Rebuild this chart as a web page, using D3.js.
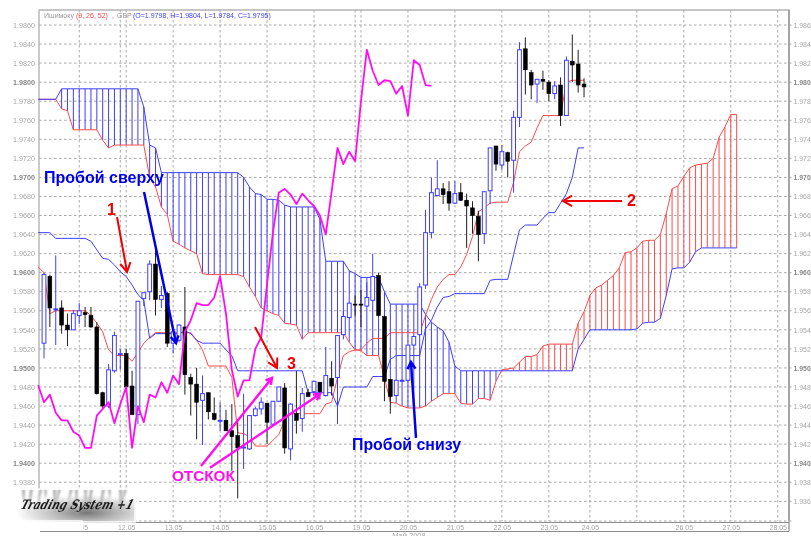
<!DOCTYPE html>
<html><head><meta charset="utf-8">
<script src="https://cdnjs.cloudflare.com/ajax/libs/d3/7.9.0/d3.min.js"></script>
<style>html,body{margin:0;padding:0;background:#fff;overflow:hidden}svg{display:block}text{font-family:"Liberation Sans",Arial,sans-serif}</style>
</head><body><svg id="c" width="811" height="536"></svg>
<script>
// all prices are in 1/10000 units (19860 = 1.9860)
const priceTicks=[19860,19840,19820,19800,19780,19760,19740,19720,19700,19680,19660,19640,19620,19600,19580,19560,19540,19520,19500,19480,19460,19440,19420,19400,19380,19360];
const dateTicks=[[6,"11.05"],[14,"12.05"],[22,"13.05"],[30,"14.05"],[38,"15.05"],[46,"16.05"],[54,"19.05"],[62,"20.05"],[70,"21.05"],[78,"22.05"],[86,"23.05"],[93,"24.05"],[109,"26.05"],[117,"27.05"],[125,"28.05"]];
const extraGrid=[13,53,101];
const opens=[19526,19596,19562,19563,19545,19540,19555,19558,19555,19543,19474,19460,19497,19514,19515,19481,19451,19573,19580,19609,19572,19578,19526,19529,19543,19490,19483,19466,19474,19452,19445,19445,19434,19429,19417,19415,19450,19457,19463,19441,19465,19479,19415,19452,19447,19474,19475,19485,19471,19489,19490,19535,19553,19567,19567,19565,19571,19597,19554,19488,19471,19487,19487,19524,19535,19587,19642,19681,19688,19685,19673,19684,19676,19668,19659,19641,19686,19733,19713,19726,19718,19763,19835,19810,19798,19803,19800,19788,19797,19765,19822,19819,19798];
const highs=[19600,19598,19618,19571,19557,19561,19568,19564,19564,19548,19475,19504,19538,19520,19520,19497,19570,19579,19613,19627,19586,19580,19538,19546,19585,19494,19500,19492,19474,19469,19464,19456,19462,19446,19473,19450,19459,19469,19463,19465,19480,19484,19463,19497,19479,19478,19486,19485,19522,19507,19534,19560,19568,19576,19582,19590,19620,19600,19555,19488,19487,19488,19524,19533,19589,19666,19700,19718,19694,19696,19696,19694,19683,19675,19665,19685,19731,19733,19734,19727,19770,19842,19847,19813,19803,19812,19802,19801,19805,19827,19850,19834,19804];
const lows=[19510,19543,19524,19536,19523,19540,19546,19543,19542,19472,19458,19458,19495,19498,19480,19451,19441,19565,19571,19555,19563,19522,19515,19527,19472,19450,19425,19419,19446,19445,19434,19434,19392,19363,19394,19414,19449,19451,19420,19440,19464,19410,19403,19431,19433,19470,19474,19467,19470,19471,19441,19530,19552,19555,19543,19564,19570,19554,19465,19452,19471,19486,19486,19523,19534,19583,19636,19680,19672,19665,19672,19675,19626,19641,19612,19630,19672,19707,19708,19700,19684,19753,19787,19782,19778,19792,19780,19782,19754,19765,19800,19789,19784];
const closes=[19598,19563,19562,19545,19540,19557,19560,19556,19543,19473,19460,19498,19534,19515,19480,19451,19570,19579,19609,19572,19576,19526,19538,19545,19493,19483,19464,19473,19454,19446,19445,19434,19428,19416,19417,19450,19457,19464,19443,19465,19480,19416,19462,19445,19473,19470,19486,19475,19492,19481,19534,19554,19568,19566,19566,19574,19596,19555,19486,19470,19487,19487,19524,19533,19585,19642,19684,19688,19682,19673,19683,19676,19670,19660,19640,19685,19731,19714,19727,19717,19763,19834,19813,19797,19803,19801,19788,19796,19765,19823,19818,19797,19795];
// line series start one bar before the first candle
const tenkan=[19606,19600,19557,19560,19560,19560,19560,19560,19560,19555,19547,19538,19519,19513,19513,19513,19507,19516,19526,19532,19537,19537,19537,19537,19537,19537,19537,19529,19519,19502,19502,19502,19502,19490,19432,19431,19428,19418,19418,19418,19424,19430,19445,19452,19452,19452,19452,19452,19452,19462,19464,19490,19513,19517,19519,19519,19526,19531,19531,19531,19537,19537,19537,19537,19537,19537,19555,19572,19585,19593,19598,19598,19606,19619,19638,19664,19668,19673,19674,19674,19674,19695,19727,19733,19737,19752,19765,19765,19765,19765,19800,19802,19802,19802];
const kijun=[19642,19642,19642,19636,19636,19636,19636,19636,19636,19633,19624,19615,19614,19608,19601,19596,19587,19577,19571,19531,19536,19536,19536,19536,19536,19539,19536,19529,19526,19526,19526,19526,19519,19513,19497,19497,19497,19497,19497,19497,19497,19497,19497,19497,19497,19497,19474,19474,19474,19474,19474,19460,19480,19480,19480,19480,19480,19491,19491,19491,19509,19513,19513,19513,19513,19513,19541,19550,19564,19574,19575,19578,19578,19578,19578,19578,19578,19592,19593,19593,19593,19619,19645,19650,19650,19650,19657,19663,19663,19673,19683,19700,19731,19731];
const chikou=[19482,19464,19472,19453,19445,19445,19433,19429,19416,19416,19450,19457,19464,19442,19462,19480,19416,19460,19443,19472,19469,19485,19474,19492,19483,19538,19550,19568,19566,19566,19574,19596,19557,19498,19470,19487,19487,19520,19532,19588,19642,19684,19688,19682,19672,19683,19676,19670,19660,19640,19685,19731,19714,19727,19717,19780,19834,19812,19797,19802,19801,19788,19796,19765,19823,19818,19797,19796];
const spanA=[19782,19782,19782,19782,19772,19770,19750,19750,19750,19750,19750,19739,19731,19734,19734,19734,19734,19734,19734,19700,19690,19669,19661,19633,19630,19626,19623,19620,19599,19598,19598,19598,19598,19598,19598,19596,19585,19575,19563,19560,19557,19555,19547,19546,19545,19530,19537,19537,19537,19537,19537,19537,19537,19527,19519,19518,19513,19513,19513,19490,19464,19463,19460,19458,19458,19458,19460,19465,19469,19473,19473,19473,19463,19462,19462,19468,19468,19466,19486,19498,19499,19500,19506,19512,19512,19514,19523,19525,19525,19525,19525,19525,19547,19559,19576,19584,19587,19592,19597,19605,19621,19622,19626,19633,19634,19634,19640,19662,19688,19691,19701,19710,19713,19714,19715,19720,19742,19753,19766,19766];
const spanB=[19782,19782,19782,19782,19793,19793,19793,19793,19793,19793,19793,19793,19793,19793,19793,19793,19793,19793,19774,19734,19731,19705,19705,19705,19705,19705,19705,19705,19705,19705,19705,19705,19705,19705,19705,19700,19690,19683,19682,19677,19677,19676,19671,19669,19669,19669,19669,19669,19656,19612,19612,19612,19612,19602,19599,19595,19595,19595,19595,19580,19567,19567,19567,19567,19567,19567,19556,19548,19543,19539,19527,19502,19497,19497,19497,19497,19497,19497,19497,19497,19497,19497,19497,19497,19497,19497,19497,19497,19497,19497,19497,19497,19520,19530,19540,19540,19540,19540,19540,19540,19540,19540,19541,19547,19548,19548,19552,19576,19604,19605,19605,19611,19622,19626,19626,19626,19626,19626,19626,19626];

const BLUE="#3d3dff",RED="#ff4a4a",MAG="#ff10f0",GRID="#a8a8a8",LAB="#a6a6a6";
const x=d3.scaleLinear().domain([0,100]).range([44,631]);
const y=d3.scaleLinear().domain([19860,19360]).range([25,501.3]);
const svg=d3.select("#c");
const defs=svg.append("defs");
defs.append("filter").attr("id","soft").attr("x","-2%").attr("y","-2%").attr("width","104%").attr("height","104%").append("feGaussianBlur").attr("stdDeviation",0.35);
defs.append("filter").attr("id","soft2").attr("x","-10%").attr("y","-10%").attr("width","120%").attr("height","120%").append("feGaussianBlur").attr("stdDeviation",0.8);
const rg=defs.append("radialGradient").attr("id","lg").attr("cx","0.62").attr("cy","0.72").attr("r","0.55");
rg.append("stop").attr("offset","0").attr("stop-color","#777");
rg.append("stop").attr("offset","0.45").attr("stop-color","#bbb");
rg.append("stop").attr("offset","1").attr("stop-color","#fff");
const root=svg.append("g").attr("filter","url(#soft)");
const L=39,R=789,T=10,B=521;

// grid
const hg=root.append("g");
hg.selectAll("line").data(priceTicks).join("line").attr("x1",L).attr("x2",R+4).attr("y1",d=>y(d)).attr("y2",d=>y(d))
 .attr("stroke",GRID).attr("stroke-dasharray","2.5 2.5");
const vg=root.append("g");
vg.selectAll("line").data(dateTicks.map(d=>d[0]).concat(extraGrid)).join("line").attr("x1",d=>x(d)).attr("x2",d=>x(d)).attr("y1",T).attr("y2",B)
 .attr("stroke",GRID).attr("stroke-dasharray","2.5 2.5");

// frame
const fr=root.append("g").attr("fill","none");
fr.append("path").attr("d",`M${L},${B}V${T}H${R}V${B}`).attr("stroke","#b4b4b4").attr("stroke-width",1.4);
fr.append("path").attr("d",`M${R},${T}V${B+10}`).attr("stroke","#8c8c8c").attr("stroke-width",1.2);
fr.append("path").attr("d",`M${L},${B}H${R+4}`).attr("stroke","#aaa").attr("stroke-dasharray","2.5 2.5");
fr.append("path").attr("d",`M82,${B+1.5}H${R}`).attr("stroke","#8c8c8c").attr("stroke-width",1);
fr.append("path").attr("d",`M40,${B+10.5}H${R}`).attr("stroke","#8c8c8c").attr("stroke-width",1);

// price labels: the right-hand column shows three decimals, as the window edge does in the source
root.append("g").selectAll("text").data(priceTicks).join("text").attr("x",13).attr("y",d=>y(d)+2.7)
 .attr("font-size",7.2).attr("fill",d=>d%100===0?"#888":LAB).attr("font-weight",d=>d%100===0?"bold":"normal").text(d=>(d/10000).toFixed(4));
root.append("g").selectAll("text").data(priceTicks).join("text").attr("x",793.5).attr("y",d=>y(d)+2.7)
 .attr("font-size",6.9).attr("fill",d=>d%100===0?"#888":LAB).attr("font-weight",d=>d%100===0?"bold":"normal").text(d=>(d/10000).toFixed(3));
// date labels
root.append("g").selectAll("text").data(dateTicks).join("text").attr("x",d=>x(d[0])+0.5).attr("y",530).attr("text-anchor","middle")
 .attr("font-size",7).attr("fill",LAB).text(d=>d[1]);
root.append("text").attr("x",x(62)+1).attr("y",538).attr("text-anchor","middle").attr("font-size",7.5).attr("fill",LAB).text("Май 2008");

// header
const head=[[44,"Ишимоку","#9a9a9a"],[76,"(9, 26, 52)",RED],[112,",",RED],[117,"GBP","#9a9a9a"],[133,"(O=1.9798, H=1.9804, L=1.9784, C=1.9795)",BLUE]];
root.append("g").selectAll("text").data(head).join("text").attr("x",d=>d[0]).attr("y",17.5).attr("font-size",7).attr("fill",d=>d[2]).text(d=>d[1]);

// cloud hatches
const hatch=spanA.map((a,k)=>({i:k-1,a,b:spanB[k]})).filter(d=>d.i>=3);
root.append("g").selectAll("line").data(hatch).join("line").attr("x1",d=>x(d.i)).attr("x2",d=>x(d.i)).attr("y1",d=>y(d.a)).attr("y2",d=>y(d.b))
 .attr("stroke",d=>d.b>d.a?BLUE:RED).attr("stroke-width",1);
const ln=d3.line().x((d,k)=>x(k-1)).y(d=>y(d)).curve(d3.curveLinear);
const addLine=(data,col,w)=>root.append("path").attr("d",ln(data)).attr("fill","none").attr("stroke",col).attr("stroke-width",w).attr("stroke-linejoin","round");
addLine(spanA,RED,1);addLine(spanB,BLUE,1);addLine(tenkan,RED,1);addLine(kijun,BLUE,1);

// candles
const candles=opens.map((o,i)=>({i,o,h:highs[i],l:lows[i],c:closes[i],up:closes[i]>=o}));
const cg=root.append("g");
cg.selectAll("line").data(candles).join("line").attr("x1",d=>x(d.i)).attr("x2",d=>x(d.i)).attr("y1",d=>y(d.h)).attr("y2",d=>y(d.l))
 .attr("stroke",d=>d.up?BLUE:"#222").attr("stroke-width",1);
cg.selectAll("rect").data(candles).join("rect").attr("x",d=>x(d.i)-1.9).attr("width",3.8)
 .attr("y",d=>y(Math.max(d.o,d.c))).attr("height",d=>Math.max(1,Math.abs(y(d.o)-y(d.c))))
 .attr("fill",d=>d.up?"#fff":"#000").attr("stroke",d=>d.up?BLUE:"#000").attr("stroke-width",d=>d.up?1:0.6);

addLine(chikou,MAG,1.8);

// annotations
const arrow=(a,col,w,hl)=>{
 const x1=x(a[0]),y1=y(a[1]),x2=x(a[2]),y2=y(a[3]);
 const ang=Math.atan2(y2-y1,x2-x1),s=0.52;
 const p=d3.path();p.moveTo(x1,y1);p.lineTo(x2,y2);
 p.moveTo(x2-hl*Math.cos(ang-s),y2-hl*Math.sin(ang-s));p.lineTo(x2,y2);p.lineTo(x2-hl*Math.cos(ang+s),y2-hl*Math.sin(ang+s));
 root.append("path").attr("d",p.toString()).attr("fill","none").attr("stroke",col).attr("stroke-width",w);
};
const arrowsBlue=[[17.04,19684.7,22.49,19526.2],[63.37,19426.5,62.52,19506.3]];
const arrowsRed=[[12.44,19658.5,14.14,19600.8],[35.95,19543,39.69,19500],[98.47,19675.3,88.41,19675.3]];
const arrowsMag=[[26.75,19397.1,38.84,19489.5],[28.28,19395.1,47.02,19472.7]];
arrowsBlue.forEach(a=>arrow(a,"#0000e8",2.5,8));
arrowsRed.forEach(a=>arrow(a,"#f00000",2,10.5));
arrowsMag.forEach(a=>arrow(a,MAG,2.4,7));
const notes=[[0,19694,"Пробой сверху","#0000e8",16],[10.73,19660.6,"1","#f00000",16],[41.4,19499,"3","#f00000",16],[21.8,19380.9,"ОТСКОК",MAG,15.3],[52.47,19413.9,"Пробой снизу","#0000e8",15.9],[99.3,19670,"2","#f00000",16]];
root.append("g").selectAll("text").data(notes).join("text").attr("x",d=>x(d[0])).attr("y",d=>y(d[1]))
 .attr("font-size",d=>d[4]).attr("font-weight","bold").attr("fill",d=>d[3]).text(d=>d[2]);

// logo
const logo=root.append("g");
logo.append("rect").attr("x",0).attr("y",520).attr("width",83.5).attr("height",10.5).attr("fill","#fff");
const lg=logo.append("g");
lg.append("rect").attr("x",7).attr("y",489).attr("width",129).attr("height",33).attr("fill","url(#lg)");
const spikes=[12,22,30,35,39,44,48,53,58,64,70,75,79,84,90,95,102,108,113,119,124,130];
lg.append("g").attr("filter","url(#soft2)").selectAll("path").data(spikes).join("path")
 .attr("d",(d,k)=>`M${d},489L${d+(k%2?2:-2)},${500+(k*7)%17}L${d+3},489Z`).attr("fill",(d,k)=>k%3==0?"#fff":"#8a8a8a").attr("opacity",0.75);
lg.append("path").attr("d","M7,489H135V522H82V521H7Z").attr("fill","none").attr("stroke","#fff").attr("stroke-width",1.5);
logo.append("text").attr("transform","translate(20,509) skewX(-18)").style("font-family","'DejaVu Serif',serif").attr("font-style","italic").attr("font-size",13)
 .attr("font-weight","bold").attr("fill","#1a1a1a").attr("textLength",112).attr("lengthAdjust","spacingAndGlyphs").text("Trading System +1");
</script></body></html>
